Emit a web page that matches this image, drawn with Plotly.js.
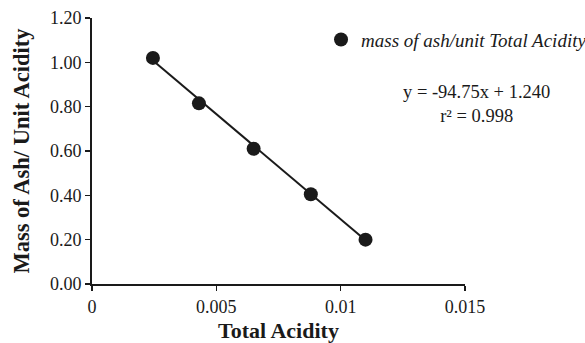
<!DOCTYPE html>
<html>
<head>
<meta charset="utf-8">
<script src="https://cdn.plot.ly/plotly-3.0.1.min.js"></script>
<style>html,body{margin:0;padding:0;background:#fff;}#chart{width:585px;height:343px;}</style>
</head>
<body>
<div id="chart"></div>
<script>
// Data
const totalAcidity = [0.00245, 0.0043, 0.0065, 0.0088, 0.011];
const massPerAcidity = [1.02, 0.815, 0.61, 0.405, 0.20];
const seriesName = 'mass of ash/unit Total Acidity';
// Fitted line shown on the chart: y = -94.75x + 1.240
const fitSlope = -94.75;
const fitIntercept = 1.240;
const fitX = [totalAcidity[0], totalAcidity[totalAcidity.length - 1]];
const fitY = fitX.map(x => fitSlope * x + fitIntercept);
const xTicks = [0, 0.005, 0.01, 0.015];
const xTickText = ['0', '0.005', '0.01', '0.015'];
const yTicks = [0, 0.2, 0.4, 0.6, 0.8, 1.0, 1.2];

const serif = 'Liberation Serif, Times New Roman, serif';
const ink = '#1a1a1a';

const traces = [
  {
    x: fitX, y: fitY, mode: 'lines', type: 'scatter',
    line: {color: ink, width: 2}, showlegend: false, hoverinfo: 'skip'
  },
  {
    x: totalAcidity, y: massPerAcidity, mode: 'markers', type: 'scatter',
    name: seriesName,
    marker: {color: ink, size: 14, symbol: 'circle'}
  }
];

const layout = {
  width: 585, height: 343,
  margin: {l: 92, r: 120, t: 18, b: 59, autoexpand: false},
  paper_bgcolor: '#fff', plot_bgcolor: '#fff',
  font: {family: serif, size: 18, color: ink},
  xaxis: {
    range: [0, 0.015], tickvals: xTicks, ticktext: xTickText,
    showgrid: false, zeroline: false, showline: true, linecolor: ink, linewidth: 2,
    ticks: 'outside', ticklen: 5, tickwidth: 1.5, tickcolor: ink,
    tickfont: {family: serif, size: 18, color: ink},
    title: {text: '<b>Total Acidity</b>', font: {family: serif, size: 22, color: ink}, standoff: 9}
  },
  yaxis: {
    range: [0, 1.2], tickvals: yTicks, tickformat: '.2f',
    showgrid: false, zeroline: false, showline: true, linecolor: ink, linewidth: 2,
    ticks: 'outside', ticklen: 5, tickwidth: 1.5, tickcolor: ink,
    tickfont: {family: serif, size: 18, color: ink},
    title: {text: '<b>Mass of Ash/ Unit Acidity</b>', font: {family: serif, size: 22.5, color: ink}, standoff: 14}
  },
  showlegend: true,
  legend: {
    x: 0.614, y: 0.99, xanchor: 'left', yanchor: 'top',
    bgcolor: 'rgba(0,0,0,0)', borderwidth: 0,
    font: {family: serif, size: 19, color: ink, style: 'italic'}
  },
  annotations: [
    {xref: 'paper', yref: 'paper', x: 1.03, y: 0.675, xanchor: 'center', yanchor: 'middle',
     text: 'y = -94.75x + 1.240<br>r² = 0.998', showarrow: false, align: 'center',
     font: {family: serif, size: 18.5, color: ink}}
  ]
};

Plotly.newPlot('chart', traces, layout, {displayModeBar: false, staticPlot: true});
</script>
</body>
</html>
